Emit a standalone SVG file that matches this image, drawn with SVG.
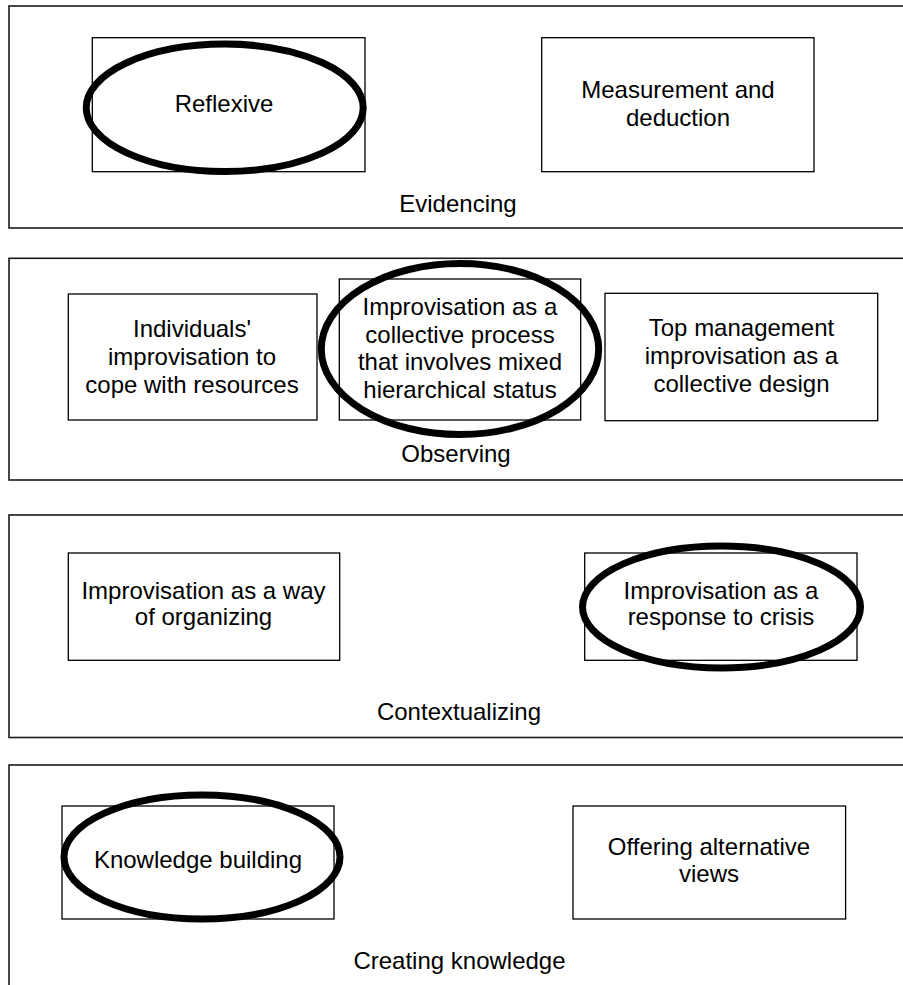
<svg xmlns="http://www.w3.org/2000/svg" width="903" height="985" viewBox="0 0 903 985">
<style>
.panel{fill:#fff;stroke:#1a1a1a;stroke-width:1.6}
.box{fill:none;stroke:#000;stroke-width:1.3}
.ring{fill:none;stroke:#000;stroke-width:7}
text{font-family:"Liberation Sans",Arial,sans-serif;font-size:24px;fill:#000;text-anchor:middle}
</style>
<rect width="903" height="985" fill="#fff"/>
<g id="panel-evidencing">
<rect class="panel" x="9" y="6" width="910" height="222"/>
<text x="458" y="212">Evidencing</text>
</g>
<g id="node-reflexive">
<rect class="box" x="92.3" y="37.7" width="272.7" height="134"/>
<ellipse class="ring" cx="224.7" cy="107.8" rx="138.5" ry="63.7"/>
<text x="224" y="112">Reflexive</text>
</g>
<g id="node-measurement">
<rect class="box" x="541.7" y="37.7" width="272.3" height="134"/>
<text x="678" y="98">Measurement and</text>
<text x="678" y="126">deduction</text>
</g>
<g id="panel-observing">
<rect class="panel" x="9" y="258.3" width="910" height="221.7"/>
<text x="456" y="462">Observing</text>
</g>
<g id="node-individuals">
<rect class="box" x="68.3" y="294" width="248.7" height="126"/>
<text x="192" y="337">Individuals'</text>
<text x="192" y="364.5">improvisation to</text>
<text x="192" y="392.5">cope with resources</text>
</g>
<g id="node-collective">
<rect class="box" x="339.3" y="279" width="241.4" height="141"/>
<ellipse class="ring" cx="460" cy="349" rx="138.7" ry="85.5"/>
<text x="460" y="314.5">Improvisation as a</text>
<text x="460" y="342.5">collective process</text>
<text x="460" y="370">that involves mixed</text>
<text x="460" y="398">hierarchical status</text>
</g>
<g id="node-topmanagement">
<rect class="box" x="605" y="293.3" width="272.7" height="127.4"/>
<text x="741.5" y="336">Top management</text>
<text x="741.5" y="363.5">improvisation as a</text>
<text x="741.5" y="391.5">collective design</text>
</g>
<g id="panel-contextualizing">
<rect class="panel" x="9" y="515" width="910" height="222.5"/>
<text x="459" y="719.5">Contextualizing</text>
</g>
<g id="node-organizing">
<rect class="box" x="68.3" y="553" width="271.4" height="107.3"/>
<text x="203.5" y="598.5">Improvisation as a way</text>
<text x="203.5" y="625">of organizing</text>
</g>
<g id="node-crisis">
<rect class="box" x="584.7" y="553" width="272.3" height="107.3"/>
<ellipse class="ring" cx="721.5" cy="607" rx="139" ry="61"/>
<text x="721" y="598.5">Improvisation as a</text>
<text x="721" y="625">response to crisis</text>
</g>
<g id="panel-creating">
<rect class="panel" x="9" y="765" width="910" height="240"/>
<text x="459.5" y="968.5">Creating knowledge</text>
</g>
<g id="node-knowledge">
<rect class="box" x="62" y="806" width="272" height="113"/>
<ellipse class="ring" cx="202" cy="857" rx="138" ry="62"/>
<text x="198" y="868">Knowledge building</text>
</g>
<g id="node-alternative">
<rect class="box" x="573" y="806" width="272.6" height="113"/>
<text x="709" y="855">Offering alternative</text>
<text x="709" y="882">views</text>
</g>
<g id="connectors"></g>
</svg>
